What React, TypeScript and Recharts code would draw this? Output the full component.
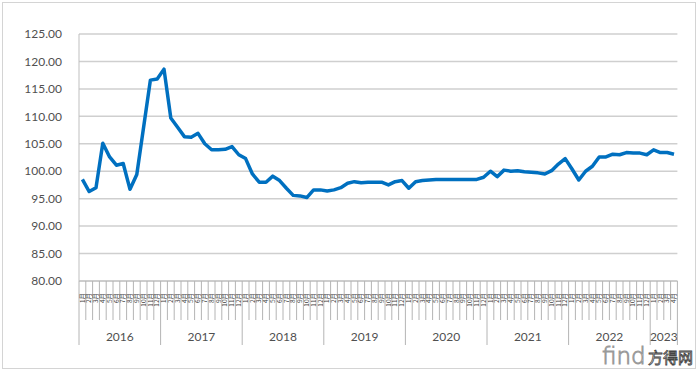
import React from 'react';
import { LineChart, Line, XAxis, YAxis, CartesianGrid } from 'recharts';

const years = ['2016', '2017', '2018', '2019', '2020', '2021', '2022', '2023'];
const monthsPerYear = [12, 12, 12, 12, 12, 12, 12, 4];

const values2016 = [98.5, 96.3, 97.0, 105.1, 102.6, 101.1, 101.4, 96.7, 99.4, 108.0, 116.6, 116.8];
const values2017 = [118.6, 109.7, 108.0, 106.3, 106.2, 106.9, 105.0, 103.9, 103.9, 104.0, 104.5, 103.0];
const values2018 = [102.3, 99.5, 98.0, 98.0, 99.1, 98.3, 96.9, 95.6, 95.5, 95.2, 96.6, 96.6];
const values2019 = [96.4, 96.6, 97.0, 97.8, 98.1, 97.9, 98.0, 98.0, 98.0, 97.5, 98.1, 98.3];
const values2020 = [96.9, 98.1, 98.3, 98.4, 98.5, 98.5, 98.5, 98.5, 98.5, 98.5, 98.5, 98.9];
const values2021 = [100.0, 99.0, 100.2, 100.0, 100.1, 99.9, 99.8, 99.7, 99.5, 100.1, 101.3, 102.3];
const values2022 = [100.4, 98.4, 100.0, 100.9, 102.6, 102.6, 103.1, 103.0, 103.4, 103.3, 103.3, 103.0];
const values2023 = [103.9, 103.4, 103.4, 103.1];

const valuesByYear = [values2016, values2017, values2018, values2019, values2020, values2021, values2022, values2023];
const yTicks = [80, 85, 90, 95, 100, 105, 110, 115, 120, 125];

type Row = { key: string; year: string; month: number; yearIdx: number; value: number };
const data: Row[] = [];
years.forEach((yr, yi) => {
  for (let m = 1; m <= monthsPerYear[yi]; m++) {
    data.push({ key: `${yr}-${m}`, year: yr, month: m, yearIdx: yi, value: valuesByYear[yi][m - 1] });
  }
});

const W = 700;
const H = 372;
const MARGIN = { top: 34, right: 22.6, bottom: 0, left: 0 };
const Y_AXIS_W = 79;
const PLOT_W = W - MARGIN.left - MARGIN.right - Y_AXIS_W;
const STEP = PLOT_W / data.length;
const LINE_GRAY = '#B4B4B4';
const TEXT_GRAY = '#505050';

function MonthTick(props: any) {
  const { x, y, payload } = props;
  const i = props.index ?? payload?.index ?? 0;
  const d = data[i];
  if (!d) return null;
  const left = x - STEP / 2;
  const right = x + STEP / 2;
  const isFirst = d.month === 1;
  const isLast = i === data.length - 1;
  const count = monthsPerYear[d.yearIdx];
  const yearCenter = x + ((count - 1) / 2) * STEP;
  const labelX = x + 2.2;
  const labelY = y + 12;
  return (
    <g>
      <line x1={left} x2={left} y1={y} y2={isFirst ? y + 64 : y + 39} stroke={LINE_GRAY} strokeWidth={1} />
      {isLast && <line x1={right} x2={right} y1={y} y2={y + 64} stroke={LINE_GRAY} strokeWidth={1} />}
      <text
        x={labelX}
        y={labelY}
        transform={`rotate(-90, ${labelX}, ${labelY})`}
        textAnchor="end"
        fontSize={6.5}
        fill="#404040"
        fontFamily="'Noto Sans CJK SC', 'Noto Sans', sans-serif"
      >
        {`${d.month}月`}
      </text>
      {isFirst && (
        <text
          x={yearCenter}
          y={y + 60}
          textAnchor="middle"
          fontSize={12}
          fill={TEXT_GRAY}
          fontFamily="Lato, 'Open Sans', sans-serif"
        >
          {d.year}
        </text>
      )}
    </g>
  );
}

export default function App() {
  return (
    <div style={{ position: 'absolute', left: 0, top: 0, width: W, height: H, background: '#fff' }}>
      <div
        style={{
          position: 'absolute',
          left: 2,
          top: 2,
          width: 692,
          height: 365,
          border: '1px solid #D4D4D4',
        }}
      />
      <div style={{ position: 'absolute', left: 0, top: 0 }}>
        <LineChart width={W} height={H} data={data} margin={MARGIN}>
          <CartesianGrid horizontal={true} vertical={false} stroke="#CFCFCF" strokeWidth={1.5} />
          <XAxis
            dataKey="key"
            interval={0}
            height={91}
            padding={{ left: STEP / 2, right: STEP / 2 }}
            tickSize={0}
            tickMargin={0}
            tickLine={false}
            axisLine={{ stroke: '#BFBFBF', strokeWidth: 1 }}
            tick={<MonthTick />}
          />
          <YAxis
            domain={[80, 125]}
            ticks={yTicks}
            interval={0}
            width={Y_AXIS_W}
            tickLine={false}
            tickSize={0}
            tickMargin={17}
            axisLine={{ stroke: '#BFBFBF', strokeWidth: 1 }}
            tickFormatter={(v: number) => v.toFixed(2)}
            tick={{ fontSize: 12, fill: TEXT_GRAY, fontFamily: "Lato, 'Open Sans', sans-serif" }}
          />
          <Line
            type="linear"
            dataKey="value"
            stroke="#0070C0"
            strokeWidth={3.5}
            dot={false}
            isAnimationActive={false}
            strokeLinejoin="round"
          />
        </LineChart>
      </div>
      <svg width={W} height={H} style={{ position: 'absolute', left: 0, top: 0, pointerEvents: 'none' }}>
        <text x={602} y={364} fontSize={23} fill="#ffffff" stroke="#9a9a9a" strokeWidth={1} fontFamily="'DejaVu Sans', sans-serif" fontWeight={300}>
          find
        </text>
        <text x={648} y={363} fontSize={15} fill="#ffffff" stroke="#444444" strokeWidth={0.8} fontFamily="'Noto Sans CJK SC', sans-serif">
          方得网
        </text>
      </svg>
    </div>
  );
}
